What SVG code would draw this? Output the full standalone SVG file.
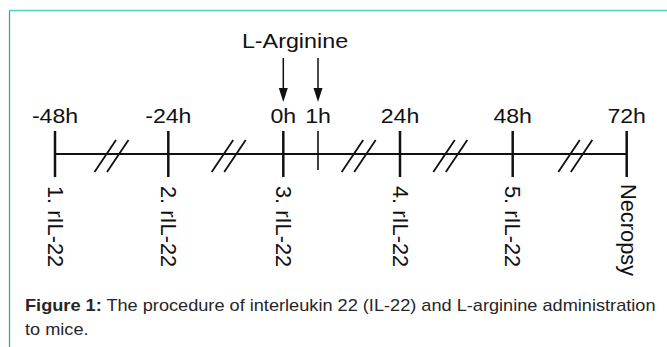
<svg xmlns="http://www.w3.org/2000/svg" width="667" height="347" viewBox="0 0 667 347">
<defs>
<style>
.lbl{font-family:"Liberation Sans",Arial,sans-serif;font-size:21px;fill:#111;text-anchor:middle;}
.vl{font-family:"Liberation Sans",Arial,sans-serif;font-size:21.8px;fill:#111;}
.cap{font-family:"Liberation Sans",Arial,sans-serif;font-size:15.8px;fill:#262626;}
.tick{stroke:#111;stroke-width:2.5;fill:none;}
.axis{stroke:#111;stroke-width:2;fill:none;}
.sl{stroke:#111;stroke-width:1.8;fill:none;}
.arr{stroke:#111;stroke-width:1.5;fill:none;}
.head{fill:#111;}
</style>
</defs>
<rect width="667" height="347" fill="#fff"/>
<g id="frame">
<line x1="9.5" y1="10" x2="9.5" y2="347" stroke="#1fa994" stroke-width="1.2"/>
<line x1="9" y1="10.5" x2="667" y2="10.5" stroke="#4fd3c0" stroke-width="1.5"/>
</g>
<g id="connectors">
<line class="axis" x1="55" y1="154" x2="627" y2="154"/>
<g id="breaks">
<path class="sl" d="M94.5,172 L116,140 M107,172 L128.5,140"/>
<path class="sl" d="M211.7,172 L233.2,140 M224.2,172 L245.7,140"/>
<path class="sl" d="M341.7,172 L363.2,140 M354.2,172 L375.7,140"/>
<path class="sl" d="M433.3,172 L454.8,140 M445.8,172 L467.3,140"/>
<path class="sl" d="M558.3,172 L579.8,140 M570.8,172 L592.3,140"/>
</g>
<g id="arrows">
<path d="M283.3,58 L283.3,90" class="arr"/>
<path class="head" d="M278.8,88 L287.8,88 L283.3,102 Z"/>
<path d="M318,58 L318,90" class="arr"/>
<path class="head" d="M313.5,88 L322.5,88 L318,102 Z"/>
</g>
</g>
<g id="node-m48">
<line class="tick" x1="55" y1="131" x2="55" y2="177"/>
<text class="lbl" transform="translate(55,123) scale(1.1,1)">-48h</text>
<text class="vl" transform="translate(47.5,186) rotate(90)">1. rIL-22</text>
</g>
<g id="node-m24">
<line class="tick" x1="168.3" y1="131" x2="168.3" y2="177"/>
<text class="lbl" transform="translate(168.3,123) scale(1.1,1)">-24h</text>
<text class="vl" transform="translate(160.8,186) rotate(90)">2. rIL-22</text>
</g>
<g id="node-0">
<line class="tick" x1="283.3" y1="131" x2="283.3" y2="177"/>
<text class="lbl" transform="translate(283.3,123) scale(1.1,1)">0h</text>
<text class="vl" transform="translate(275.8,186) rotate(90)">3. rIL-22</text>
</g>
<g id="node-1">
<line x1="318" y1="131" x2="318" y2="170" stroke="#111" stroke-width="1.6"/>
<text class="lbl" transform="translate(318,123) scale(1.1,1)">1h</text>
</g>
<g id="node-24">
<line class="tick" x1="400" y1="131" x2="400" y2="177"/>
<text class="lbl" transform="translate(400,123) scale(1.1,1)">24h</text>
<text class="vl" transform="translate(392.5,186) rotate(90)">4. rIL-22</text>
</g>
<g id="node-48">
<line class="tick" x1="512.7" y1="131" x2="512.7" y2="177"/>
<text class="lbl" transform="translate(512.7,123) scale(1.1,1)">48h</text>
<text class="vl" transform="translate(505.2,186) rotate(90)">5. rIL-22</text>
</g>
<g id="node-72">
<line class="tick" x1="626.7" y1="131" x2="626.7" y2="177"/>
<text class="lbl" transform="translate(626.7,123) scale(1.1,1)">72h</text>
<text class="vl" transform="translate(621,184) rotate(90)">Necropsy</text>
</g>
<g id="title">
<text class="lbl" transform="translate(295,48) scale(1.11,1)">L-Arginine</text>
</g>
<g id="caption" transform="translate(25,0) scale(1.15,1)">
<text class="cap" x="0" y="311"><tspan font-weight="bold">Figure 1:</tspan> The procedure of interleukin 22 (IL-22) and L-arginine administration</text>
<text class="cap" x="0" y="335.5">to mice.</text>
</g>
</svg>
